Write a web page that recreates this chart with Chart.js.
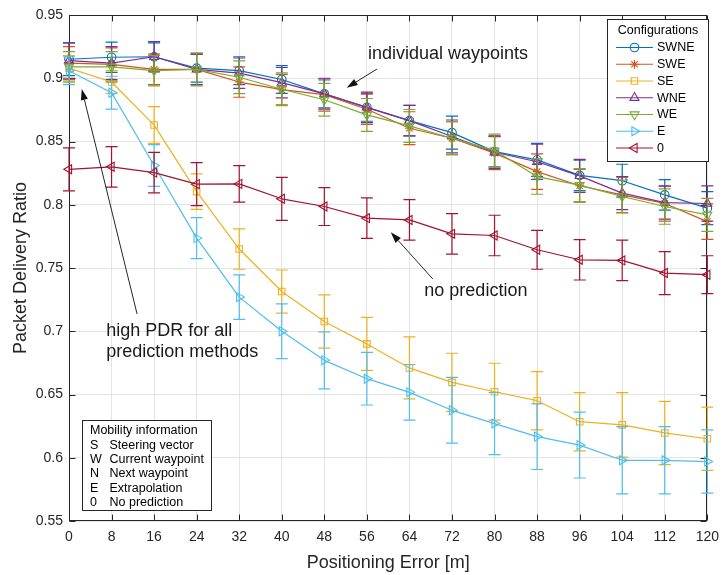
<!DOCTYPE html>
<html>
<head>
<meta charset="utf-8">
<title>Packet Delivery Ratio vs Positioning Error</title>
<script src="https://cdn.jsdelivr.net/npm/chart.js"></script>
<style>
  html, body { margin: 0; padding: 0; background: #ffffff; }
  #wrap { position: relative; width: 727px; height: 575px; }
  canvas { display: block; }
</style>
</head>
<body>
<div id="wrap"><canvas id="pdrChart" width="727" height="575"></canvas></div>
<script>
// ---- data -------------------------------------------------------------
const positionError = [0, 8, 16, 24, 32, 40, 48, 56, 64, 72, 80, 88, 96, 104, 112, 120];
const yTickValues = [0.55, 0.6, 0.65, 0.7, 0.75, 0.8, 0.85, 0.9, 0.95];
const configNames = ['SWNE', 'SWE', 'SE', 'WNE', 'WE', 'E', '0'];

const pdrSWNE = [0.915, 0.9166, 0.917, 0.908, 0.906, 0.899, 0.8876, 0.877, 0.8665, 0.857, 0.842, 0.8355, 0.8232, 0.819, 0.8078, 0.7973];
const errSWNE = [0.013, 0.012, 0.011, 0.011, 0.011, 0.011, 0.011, 0.011, 0.012, 0.013, 0.012, 0.013, 0.012, 0.013, 0.012, 0.013];

const pdrSWE = [0.912, 0.911, 0.907, 0.907, 0.897, 0.891, 0.887, 0.8755, 0.8605, 0.8526, 0.8408, 0.8262, 0.815, 0.8078, 0.801, 0.7867];
const errSWE = [0.013, 0.013, 0.012, 0.012, 0.012, 0.012, 0.013, 0.012, 0.013, 0.013, 0.013, 0.014, 0.013, 0.014, 0.014, 0.014];

const pdrSE = [0.908, 0.897, 0.863, 0.8104, 0.765, 0.7314, 0.7077, 0.690, 0.671, 0.6596, 0.6522, 0.6451, 0.6285, 0.626, 0.6196, 0.615];
const errSE = [0.010, 0.009, 0.0145, 0.014, 0.016, 0.017, 0.021, 0.021, 0.0245, 0.023, 0.0225, 0.023, 0.023, 0.0255, 0.025, 0.025];

const pdrWNE = [0.914, 0.912, 0.917, 0.907, 0.904, 0.8965, 0.8876, 0.877, 0.8665, 0.854, 0.8415, 0.834, 0.8228, 0.8092, 0.8017, 0.801];
const errWNE = [0.014, 0.013, 0.012, 0.012, 0.012, 0.012, 0.012, 0.012, 0.012, 0.013, 0.013, 0.014, 0.013, 0.013, 0.013, 0.014];

const pdrWE = [0.909, 0.909, 0.906, 0.907, 0.9008, 0.8913, 0.883, 0.871, 0.8623, 0.8526, 0.8428, 0.8223, 0.8155, 0.8065, 0.7986, 0.792];
const errWE = [0.012, 0.012, 0.012, 0.013, 0.013, 0.013, 0.013, 0.013, 0.013, 0.013, 0.013, 0.014, 0.013, 0.013, 0.014, 0.013];

const pdrE = [0.906, 0.8886, 0.831, 0.7736, 0.727, 0.700, 0.677, 0.6625, 0.6517, 0.6375, 0.627, 0.6167, 0.610, 0.598, 0.598, 0.597];
const errE = [0.011, 0.013, 0.0165, 0.0162, 0.0176, 0.0217, 0.0225, 0.0208, 0.022, 0.026, 0.0246, 0.026, 0.026, 0.0266, 0.0266, 0.025];

const pdrNone = [0.828, 0.830, 0.8254, 0.8163, 0.8165, 0.8047, 0.7986, 0.7894, 0.788, 0.777, 0.7757, 0.7644, 0.7565, 0.756, 0.746, 0.7447];
const errNone = [0.017, 0.016, 0.016, 0.017, 0.0145, 0.017, 0.015, 0.016, 0.016, 0.016, 0.016, 0.0154, 0.016, 0.016, 0.017, 0.015];

const mobilityCodes = ['S', 'W', 'N', 'E', '0'];
const mobilityMeanings = ['Steering vector', 'Current waypoint', 'Next waypoint', 'Extrapolation', 'No prediction'];

// ---- appearance -------------------------------------------------------
const FONT = '"Liberation Sans", Arial, Helvetica, sans-serif';
const INK = '#262626';

const seriesValues = [pdrSWNE, pdrSWE, pdrSE, pdrWNE, pdrWE, pdrE, pdrNone];
const seriesErrors = [errSWNE, errSWE, errSE, errWNE, errWE, errE, errNone];
const seriesStyle = [
  { color: '#0072BD', shape: 'circle',   rot: 0,   r: 4.3 },
  { color: '#D95319', shape: 'star',     rot: 0,   r: 4.5 },
  { color: '#EDB120', shape: 'rect',     rot: 0,   r: 4.6 },
  { color: '#7E2F8E', shape: 'triangle', rot: 0,   r: 5.2 },
  { color: '#77AC30', shape: 'triangle', rot: 180, r: 5.2 },
  { color: '#4DBEEE', shape: 'triangle', rot: 90,  r: 5.2 },
  { color: '#A2142F', shape: 'triangle', rot: 270, r: 5.2 }
];

const datasets = configNames.map((name, k) => ({
  label: name,
  data: positionError.map((x, i) => ({ x: x, y: seriesValues[k][i] })),
  errorBars: seriesErrors[k],
  borderColor: seriesStyle[k].color,
  borderWidth: 1.2,
  pointStyle: seriesStyle[k].shape,
  pointRotation: seriesStyle[k].rot,
  pointRadius: seriesStyle[k].r,
  pointBorderWidth: 1.1,
  pointBorderColor: seriesStyle[k].color,
  pointBackgroundColor: 'rgba(0,0,0,0)',
  fill: false,
  tension: 0,
  clip: false,
  order: configNames.length - k
}));

// ---- helpers ----------------------------------------------------------
function marker(ctx, style, x, y) {
  ctx.save();
  ctx.strokeStyle = style.color;
  ctx.fillStyle = 'rgba(0,0,0,0)';
  ctx.lineWidth = 1.1;
  if (Chart.helpers && Chart.helpers.drawPoint) {
    Chart.helpers.drawPoint(ctx, { pointStyle: style.shape, rotation: style.rot, radius: style.r, borderWidth: 1.1 }, x, y);
  } else {
    ctx.beginPath();
    ctx.arc(x, y, style.r, 0, Math.PI * 2);
    ctx.stroke();
  }
  ctx.restore();
}

function arrow(ctx, x0, y0, x1, y1) {
  const ang = Math.atan2(y1 - y0, x1 - x0);
  const len = 11, half = 3.6;
  const bx = x1 - len * Math.cos(ang), by = y1 - len * Math.sin(ang);
  ctx.save();
  ctx.strokeStyle = INK;
  ctx.fillStyle = '#111111';
  ctx.lineWidth = 1;
  ctx.beginPath();
  ctx.moveTo(x0, y0);
  ctx.lineTo(bx, by);
  ctx.stroke();
  ctx.beginPath();
  ctx.moveTo(x1, y1);
  ctx.lineTo(bx + half * Math.sin(ang), by - half * Math.cos(ang));
  ctx.lineTo(bx - half * Math.sin(ang), by + half * Math.cos(ang));
  ctx.closePath();
  ctx.fill();
  ctx.restore();
}

// ---- plugins ----------------------------------------------------------
// Axes box with inward tick marks on all four sides
const axesBox = {
  id: 'axesBox',
  beforeDatasetsDraw(chart) {
    const { ctx, chartArea: a, scales } = chart;
    const L = Math.round(a.left) + 0.5, R = Math.round(a.right) - 0.5;
    const T = Math.round(a.top) + 0.5, B = Math.round(a.bottom) - 0.5;
    ctx.save();
    ctx.strokeStyle = INK;
    ctx.lineWidth = 1;
    ctx.strokeRect(L, T, R - L, B - T);
    const tl = 6;
    ctx.beginPath();
    positionError.forEach(v => {
      const x = Math.round(scales.x.getPixelForValue(v)) + 0.5;
      ctx.moveTo(x, B); ctx.lineTo(x, B - tl);
      ctx.moveTo(x, T); ctx.lineTo(x, T + tl);
    });
    yTickValues.forEach(v => {
      const y = Math.round(scales.y.getPixelForValue(v)) + 0.5;
      ctx.moveTo(L, y); ctx.lineTo(L + tl, y);
      ctx.moveTo(R, y); ctx.lineTo(R - tl, y);
    });
    ctx.stroke();
    ctx.restore();
  }
};

// Vertical error bars with caps, drawn under each series
const errorBars = {
  id: 'errorBars',
  beforeDatasetDraw(chart, args) {
    const ds = chart.data.datasets[args.index];
    if (!ds.errorBars) return;
    const { ctx, scales } = chart;
    const cap = 6;
    ctx.save();
    ctx.strokeStyle = ds.borderColor;
    ctx.lineWidth = 1.2;
    ctx.beginPath();
    ds.data.forEach((p, i) => {
      const e = ds.errorBars[i];
      const x = scales.x.getPixelForValue(p.x);
      const yt = scales.y.getPixelForValue(p.y + e);
      const yb = scales.y.getPixelForValue(p.y - e);
      ctx.moveTo(x, yt); ctx.lineTo(x, yb);
      ctx.moveTo(x - cap, yt); ctx.lineTo(x + cap, yt);
      ctx.moveTo(x - cap, yb); ctx.lineTo(x + cap, yb);
    });
    ctx.stroke();
    ctx.restore();
  }
};

// Text notes with arrows, the configuration legend and the mobility key
const notes = {
  id: 'notes',
  afterDraw(chart) {
    const { ctx, scales } = chart;
    const px = v => scales.x.getPixelForValue(v);
    const py = v => scales.y.getPixelForValue(v);

    ctx.save();
    ctx.fillStyle = '#1a1a1a';
    ctx.font = '18px ' + FONT;
    ctx.textBaseline = 'middle';
    ctx.textAlign = 'left';
    ctx.fillText('individual waypoints', px(56.2), py(0.9195));
    ctx.fillText('no prediction', px(66.8), py(0.7318));
    ctx.fillText('high PDR for all', px(7.0), py(0.7002));
    ctx.fillText('prediction methods', px(7.0), py(0.6836));
    ctx.restore();

    arrow(ctx, px(57.9), py(0.9073), px(52.2), py(0.8925));
    arrow(ctx, px(68.4), py(0.7413), px(60.5), py(0.7782));
    arrow(ctx, px(12.8), py(0.7136), px(2.4), py(0.8915));

    // configuration legend (top right)
    const lx = 607.5, ly = 19.5, lw = 101, lh = 142;
    ctx.save();
    ctx.fillStyle = '#ffffff';
    ctx.fillRect(lx, ly, lw, lh);
    ctx.strokeStyle = INK;
    ctx.lineWidth = 1;
    ctx.strokeRect(lx, ly, lw, lh);
    ctx.fillStyle = '#000000';
    ctx.font = '12.5px ' + FONT;
    ctx.textBaseline = 'middle';
    ctx.textAlign = 'center';
    ctx.fillText('Configurations', lx + lw / 2, 30.5);
    ctx.textAlign = 'left';
    configNames.forEach((name, k) => {
      const y = 47.5 + k * 16.75;
      const st = seriesStyle[k];
      ctx.strokeStyle = st.color;
      ctx.lineWidth = 1.2;
      ctx.beginPath();
      ctx.moveTo(616, y); ctx.lineTo(653, y);
      ctx.stroke();
      marker(ctx, st, 634.5, y);
      ctx.fillStyle = '#000000';
      ctx.fillText(name, 657, y + 0.5);
    });
    ctx.restore();

    // mobility information key (bottom left)
    const bx = 82.5, by = 420.5, bw = 129, bh = 90;
    ctx.save();
    ctx.fillStyle = '#ffffff';
    ctx.fillRect(bx, by, bw, bh);
    ctx.strokeStyle = INK;
    ctx.lineWidth = 1;
    ctx.strokeRect(bx, by, bw, bh);
    ctx.fillStyle = '#000000';
    ctx.font = '12.5px ' + FONT;
    ctx.textBaseline = 'middle';
    ctx.textAlign = 'left';
    ctx.fillText('Mobility information', 90, 431);
    mobilityCodes.forEach((c, i) => {
      const y = 445.2 + i * 14.3;
      ctx.fillText(c, 90, y);
      ctx.fillText(mobilityMeanings[i], 109.5, y);
    });
    ctx.restore();
  }
};

// ---- chart ------------------------------------------------------------
new Chart(document.getElementById('pdrChart'), {
  type: 'line',
  data: { datasets: datasets },
  plugins: [axesBox, errorBars, notes],
  options: {
    responsive: false,
    animation: false,
    devicePixelRatio: 1,
    layout: { padding: { top: 15, right: 13, left: 0, bottom: 0 } },
    plugins: { legend: { display: false }, tooltip: { enabled: false } },
    elements: { line: { borderJoinStyle: 'round' } },
    scales: {
      x: {
        type: 'linear',
        min: 0,
        max: 120,
        afterBuildTicks: s => { s.ticks = positionError.map(v => ({ value: v })); },
        afterFit: s => { s.height = 54; },
        grid: { color: '#e4e4e4', lineWidth: 1, drawTicks: false },
        border: { display: false },
        ticks: {
          padding: 8,
          color: INK,
          autoSkip: false,
          maxRotation: 0,
          font: { family: FONT, size: 14 },
          callback: v => String(v)
        },
        title: {
          display: true,
          text: 'Positioning Error [m]',
          color: INK,
          font: { family: FONT, size: 18 },
          padding: { top: 0, bottom: 1 }
        }
      },
      y: {
        type: 'linear',
        min: 0.55,
        max: 0.95,
        afterBuildTicks: s => { s.ticks = yTickValues.map(v => ({ value: v })); },
        afterFit: s => { s.width = 69; },
        grid: { color: '#e4e4e4', lineWidth: 1, drawTicks: false },
        border: { display: false },
        ticks: {
          padding: 6,
          color: INK,
          font: { family: FONT, size: 14 },
          callback: v => String(+Number(v).toFixed(2))
        },
        title: {
          display: true,
          text: 'Packet Delivery Ratio',
          color: INK,
          font: { family: FONT, size: 18 },
          padding: { top: 10, bottom: 0 }
        }
      }
    }
  }
});
</script>
</body>
</html>
